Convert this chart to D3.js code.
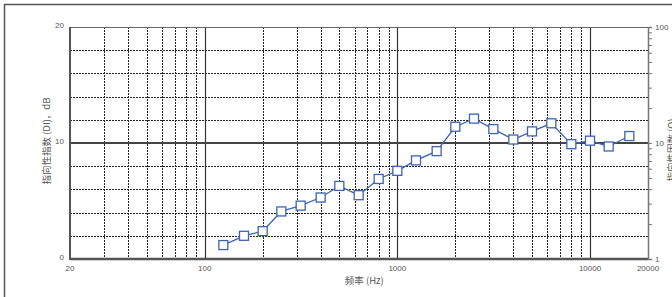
<!DOCTYPE html>
<html>
<head>
<meta charset="utf-8">
<script src="https://cdn.jsdelivr.net/npm/d3@7"></script>
<style>
body { margin: 0; background: #fff; }
svg { display: block; }
text { font-family: "Liberation Sans", Arial, sans-serif; fill: #555; }
.cjk { font-family: "Noto Sans CJK SC", "Liberation Sans", sans-serif; }
</style>
</head>
<body>
<script>
// Data: third-octave bands and directivity index (dB)
var freqs = [125, 160, 200, 250, 315, 400, 500, 630, 800, 1000, 1250, 1600,
             2000, 2500, 3150, 4000, 5000, 6300, 8000, 10000, 12500, 16000];
var di = [1.2, 2.0, 2.4, 4.1, 4.6, 5.3, 6.3, 5.5, 6.9, 7.6, 8.5, 9.3,
          11.4, 12.1, 11.2, 10.3, 11.0, 11.7, 9.9, 10.2, 9.7, 10.6];
var xTickLabels = [20, 100, 1000, 10000, 20000];
var yTickLabels = [0, 10, 20];
var qTickLabels = [1, 10, 100];

var width = 672, height = 297;
var margin = {top: 27, right: 24, bottom: 38, left: 70};
var w = width - margin.left - margin.right,
    h = height - margin.top - margin.bottom;

var svg = d3.select("body").append("svg")
  .attr("width", width)
  .attr("height", height);

// outer frame
svg.append("rect")
  .attr("x", 4.5).attr("y", 4.5)
  .attr("width", width + 10).attr("height", height + 10)
  .attr("fill", "none").attr("stroke", "#555").attr("stroke-width", 1.5);

var g = svg.append("g")
  .attr("transform", "translate(" + margin.left + "," + margin.top + ")");

var x = d3.scaleLog().domain([20, 20000]).range([0, w]);
var y = d3.scaleLinear().domain([0, 20]).range([h, 0]);
var q = d3.scaleLog().domain([1, 100]).range([h, 0]);

// vertical grid
var minorX = [];
[10, 100, 1000].forEach(function(dec) {
  for (var k = 2; k <= 9; k++) {
    var f = dec * k;
    if (f > 20 && f < 20000 && f % 100 !== 0 || (f > 20 && f < 20000 && dec * k !== 100 && dec * k !== 1000 && dec * k !== 10000)) minorX.push(f);
  }
});
minorX = minorX.filter(function(f) { return [100, 1000, 10000].indexOf(f) < 0; });

g.append("g").selectAll("line")
  .data(minorX).enter().append("line")
  .attr("x1", function(d) { return Math.round(x(d)) + 0.5; })
  .attr("x2", function(d) { return Math.round(x(d)) + 0.5; })
  .attr("y1", 0).attr("y2", h)
  .attr("stroke", "#222").attr("stroke-width", 1)
  .attr("stroke-dasharray", "2,1");

g.append("g").selectAll("line")
  .data([100, 1000, 10000]).enter().append("line")
  .attr("x1", function(d) { return Math.round(x(d)) + 0.5; })
  .attr("x2", function(d) { return Math.round(x(d)) + 0.5; })
  .attr("y1", 0).attr("y2", h)
  .attr("stroke", "#333").attr("stroke-width", 1.2);

// horizontal grid
g.append("g").selectAll("line")
  .data([2, 4, 6, 8, 12, 14, 16, 18]).enter().append("line")
  .attr("x1", 0).attr("x2", w)
  .attr("y1", function(d) { return Math.round(y(d)) + 0.5; })
  .attr("y2", function(d) { return Math.round(y(d)) + 0.5; })
  .attr("stroke", "#222").attr("stroke-width", 1)
  .attr("stroke-dasharray", "2,1");

g.append("line")
  .attr("x1", 0).attr("x2", w)
  .attr("y1", y(10)).attr("y2", y(10))
  .attr("stroke", "#444").attr("stroke-width", 2);

// top border
g.append("line")
  .attr("x1", 0).attr("x2", w).attr("y1", 0.5).attr("y2", 0.5)
  .attr("stroke", "#666").attr("stroke-width", 1);

// left and bottom axes lines
g.append("line")
  .attr("x1", 0).attr("x2", 0).attr("y1", 0).attr("y2", h + 1)
  .attr("stroke", "#555").attr("stroke-width", 2);
g.append("line")
  .attr("x1", 0).attr("x2", w).attr("y1", h).attr("y2", h)
  .attr("stroke", "#555").attr("stroke-width", 2.5);

// right log axis (Q)
var qAxis = d3.axisRight(q)
  .tickValues([1, 2, 3, 4, 5, 6, 7, 8, 9, 10, 20, 30, 40, 50, 60, 70, 80, 90, 100])
  .tickSize(4)
  .tickFormat(function(d) { return qTickLabels.indexOf(d) >= 0 ? d : ""; });
var qa = g.append("g")
  .attr("transform", "translate(" + w + ",0)")
  .call(qAxis);
qa.select(".domain").attr("stroke", "#777").attr("stroke-width", 1.5);
qa.selectAll(".tick line").attr("stroke", "#777");
qa.selectAll(".tick text").attr("font-size", 8).attr("x", 7).style("fill", "#555");

// y tick labels
g.append("g").selectAll("text")
  .data(yTickLabels).enter().append("text")
  .attr("x", -6).attr("y", function(d) { return y(d); })
  .attr("dy", "0.1em")
  .attr("text-anchor", "end")
  .attr("font-size", 8)
  .text(function(d) { return d; });

// x tick labels
g.append("g").selectAll("text")
  .data(xTickLabels).enter().append("text")
  .attr("x", function(d) { return x(d); })
  .attr("y", h + 12)
  .attr("text-anchor", "middle")
  .attr("font-size", 8)
  .text(function(d) { return d; });

// axis titles
svg.append("text")
  .attr("class", "cjk")
  .attr("x", margin.left + x(1000) - 33).attr("y", 284)
  .attr("text-anchor", "middle")
  .attr("font-size", 9.5)
  .text("频率 (Hz)");

svg.append("text")
  .attr("class", "cjk")
  .attr("transform", "translate(50,141) rotate(-90)")
  .attr("text-anchor", "middle")
  .attr("font-size", 9.5)
  .text("指向性指数 (DI)，dB");

svg.append("text")
  .attr("class", "cjk")
  .attr("transform", "translate(675,150) rotate(-90)")
  .attr("text-anchor", "middle")
  .attr("font-size", 9.5)
  .text("指向性因数 (Q)");

// data line and markers
var line = d3.line()
  .x(function(d, i) { return x(freqs[i]); })
  .y(function(d) { return y(d); });

g.append("path")
  .datum(di)
  .attr("d", line)
  .attr("fill", "none")
  .attr("stroke", "#3b64b2")
  .attr("stroke-width", 1.3);

var ms = 9;
g.append("g").selectAll("rect")
  .data(di).enter().append("rect")
  .attr("x", function(d, i) { return x(freqs[i]) - ms / 2; })
  .attr("y", function(d) { return y(d) - ms / 2; })
  .attr("width", ms).attr("height", ms)
  .attr("fill", "#fff")
  .attr("stroke", "#3b64b2")
  .attr("stroke-width", 1.3);
</script>
</body>
</html>
